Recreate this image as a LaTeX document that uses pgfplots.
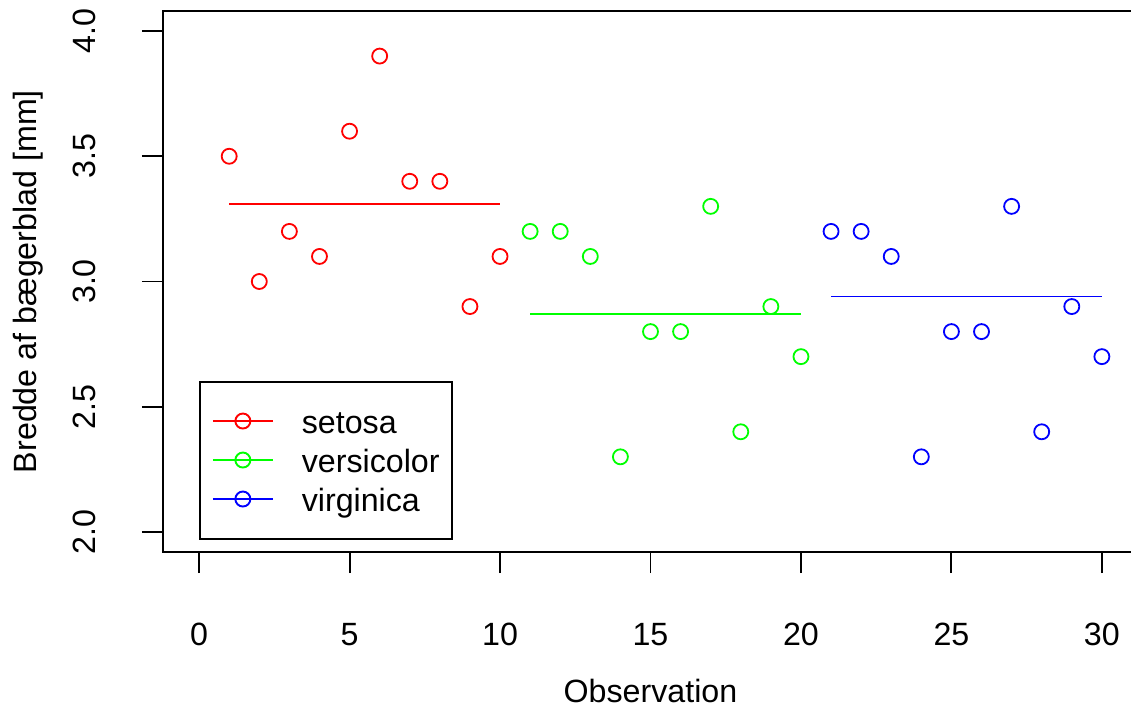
\documentclass[border=0pt]{standalone}
\usepackage{fontspec}
\setmainfont{Liberation Sans}
\usepackage{pgfplots}
\pgfplotsset{compat=1.18}

\definecolor{rred}{RGB}{255,0,0}
\definecolor{rgreen}{RGB}{0,255,0}
\definecolor{rblue}{RGB}{0,0,255}

\begin{document}
\fontsize{16.1}{19}\selectfont
\begin{tikzpicture}
\begin{axis}[
    at={(0,0)}, anchor=south west,
    scale only axis,
    width=487.5pt, height=270.5pt,
    xmin=-1.2, xmax=31.2,
    ymin=1.92, ymax=4.08,
    clip=false,
    xtick={0,5,10,15,20,25,30},
    ytick={2.0,2.5,3.0,3.5,4.0},
    y tick label style={/pgf/number format/fixed, /pgf/number format/fixed zerofill, /pgf/number format/precision=1},
    /pgf/number format/assume math mode=true,
    tick align=outside,
    xtick pos=bottom, ytick pos=left,
    major tick length=10.5pt,
    axis line style={draw=none},
    every tick/.style={black, line width=0.95pt},
    xticklabel style={inner sep=0pt, anchor=base, yshift=-36pt},
    yticklabel style={inner sep=0pt, anchor=base, rotate=90, yshift=23pt},
    xlabel={Observation},
    ylabel={Bredde af bægerblad [mm]},
    xlabel style={inner sep=0pt, at={(axis description cs:0.5,0)}, anchor=base, yshift=-75pt},
    ylabel style={inner sep=0pt, at={([xshift=-63pt]axis description cs:0,0.5)}, anchor=base},
    legend cell align=left,
    legend style={at={(rel axis cs:0.0369,0.0222)}, anchor=south west,
        draw=black, line width=0.95pt, inner xsep=6pt, inner ysep=10pt,
        row sep=0pt, column sep=14pt,
        nodes={inner sep=0pt, text height=15.5pt, text depth=4pt, anchor=base west}},
    legend image code/.code={
        \draw[#1] (0pt,6pt) -- (30pt,6pt);
        \draw[#1] plot[only marks, mark=o, mark size=3.75pt] coordinates {(15pt,6pt)};
    },
]
% plot frame: right side lies outside the picture, as in the reference
\draw[black, line width=0.95pt] (rel axis cs:1,1) -- (rel axis cs:0,1) -- (rel axis cs:0,0) -- (rel axis cs:1,0);
% observations
\addplot[forget plot, only marks, mark=o, mark size=3.75pt, rred, line width=0.9pt]
  coordinates {(1,3.5) (2,3.0) (3,3.2) (4,3.1) (5,3.6) (6,3.9) (7,3.4) (8,3.4) (9,2.9) (10,3.1)};
\addplot[forget plot, only marks, mark=o, mark size=3.75pt, rgreen, line width=0.9pt]
  coordinates {(11,3.2) (12,3.2) (13,3.1) (14,2.3) (15,2.8) (16,2.8) (17,3.3) (18,2.4) (19,2.9) (20,2.7)};
\addplot[forget plot, only marks, mark=o, mark size=3.75pt, rblue, line width=0.9pt]
  coordinates {(21,3.2) (22,3.2) (23,3.1) (24,2.3) (25,2.8) (26,2.8) (27,3.3) (28,2.4) (29,2.9) (30,2.7)};
% group means
\addplot[forget plot, rred, line width=0.95pt] coordinates {(1,3.31) (10,3.31)};
\addplot[forget plot, rgreen, line width=0.95pt] coordinates {(11,2.87) (20,2.87)};
\addplot[forget plot, rblue, line width=0.95pt] coordinates {(21,2.94) (30,2.94)};

\addlegendimage{rred, line width=0.95pt}
\addlegendentry{setosa}
\addlegendimage{rgreen, line width=0.95pt}
\addlegendentry{versicolor}
\addlegendimage{rblue, line width=0.95pt}
\addlegendentry{virginica}
\end{axis}
\pgfresetboundingbox
\useasboundingbox (-81.5pt,-77.5pt) rectangle (484pt,276pt);
\end{tikzpicture}
\end{document}
